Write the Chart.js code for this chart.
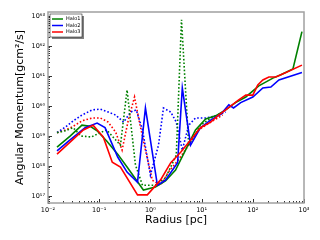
<!DOCTYPE html>
<html>
<head>
<meta charset="utf-8">
<script src="https://cdn.jsdelivr.net/npm/chart.js@4"></script>
<style>
  html, body { margin: 0; padding: 0; background: #fff; }
  #wrap { width: 320px; height: 240px; }
</style>
</head>
<body>
<div id="wrap"><canvas id="amChart" width="320" height="240"></canvas></div>
<script>
// ============================================
// DATA — radius [pc] and angular momentum [g cm^2/s]
// ============================================
const xTicks = [1e-2, 1e-1, 1e0, 1e1, 1e2, 1e3];
const yTicks = [1e57, 1e58, 1e59, 1e60, 1e61, 1e62, 1e63];
const supers = { '-': '⁻', '0': '⁰', '1': '¹', '2': '²', '3': '³', '4': '⁴', '5': '⁵', '6': '⁶', '7': '⁷', '8': '⁸', '9': '⁹' };

// Halo1 (green)
const halo1R = [0.015, 0.027, 0.046, 0.067, 0.091, 0.14, 0.23, 0.35, 0.73, 1.25, 1.97, 3.1, 4.85, 7.6, 12, 18.8, 29.5, 46, 73, 131, 247, 354, 608, 912];
const halo1L = [4.3e58, 1.0e59, 2.3e59, 2.1e59, 1.5e59, 6.8e58, 2.5e58, 9.3e57, 1.6e57, 2.0e57, 3.2e57, 7.4e57, 3.4e58, 1.6e59, 3.7e59, 4.7e59, 7.4e59, 1.3e60, 2.0e60, 4.7e60, 8.5e60, 1.1e61, 1.7e61, 3.0e62];
const halo1DotR = [0.015, 0.022, 0.031, 0.044, 0.070, 0.105, 0.14, 0.21, 0.26, 0.35, 0.51, 0.70, 1.25, 1.97, 3.2, 4.05, 5.6, 9.5, 16.4, 25.8];
const halo1DotL = [1.3e59, 1.5e59, 1.9e59, 1.0e59, 9.3e58, 1.3e59, 1.6e59, 7.4e58, 5.0e58, 3.4e60, 1.1e58, 2.3e57, 2.3e57, 4.0e57, 2.3e58, 7.4e62, 5.0e58, 2.3e59, 4.3e59, 5.9e59];

// Halo2 (blue)
const halo2R = [0.015, 0.027, 0.053, 0.091, 0.13, 0.23, 0.35, 0.56, 0.80, 1.37, 1.97, 3.4, 4.2, 6.1, 9.5, 15, 24, 34, 42, 58, 100, 157, 225, 324, 912];
const halo2L = [3.2e58, 7.4e58, 1.9e59, 2.7e59, 1.9e59, 2.0e58, 6.3e57, 2.9e57, 8.6e59, 2.3e57, 3.4e57, 1.3e58, 4.0e60, 5.0e58, 1.9e59, 3.4e59, 5.4e59, 1.1e60, 8.6e59, 1.3e60, 2.0e60, 4.0e60, 4.3e60, 7.4e60, 1.3e61];
const halo2DotR = [0.015, 0.022, 0.031, 0.046, 0.073, 0.105, 0.15, 0.21, 0.30, 0.41, 0.53, 0.70, 1.0, 1.44, 1.8, 2.5, 3.2, 4.2, 5.6, 7.6, 12, 18.8, 29.5];
const halo2DotL = [1.3e59, 2.0e59, 3.2e59, 5.0e59, 7.4e59, 7.9e59, 6.3e59, 5.0e59, 2.9e59, 6.3e59, 7.4e59, 1.6e59, 5.0e57, 5.0e58, 8.6e59, 6.3e59, 2.9e59, 3.4e58, 2.3e59, 4.0e59, 4.0e59, 4.7e59, 6.3e59];

// Halo3 (red)
const halo3R = [0.015, 0.027, 0.049, 0.076, 0.12, 0.18, 0.26, 0.56, 0.87, 1.57, 2.5, 3.9, 6.1, 9.5, 15, 21.5, 29.5, 53, 73, 100, 125, 157, 206, 282, 444, 912];
const halo3L = [2.5e58, 6.3e58, 1.6e59, 2.3e59, 9.3e58, 1.35e58, 9.3e57, 1.1e57, 1.1e57, 3.4e57, 1.3e58, 2.9e58, 7.4e58, 1.9e59, 2.9e59, 5.0e59, 7.4e59, 1.6e60, 2.3e60, 2.3e60, 5.0e60, 7.4e60, 9.3e60, 9.3e60, 1.3e61, 2.3e61];
const halo3DotR = [0.015, 0.022, 0.031, 0.046, 0.073, 0.105, 0.15, 0.21, 0.28, 0.37, 0.49, 0.61, 0.80, 1.09, 1.57, 2.25, 3.5, 5.6, 8.7, 15, 25.8];
const halo3DotL = [1.3e59, 1.6e59, 2.1e59, 3.2e59, 4.0e59, 4.0e59, 2.9e59, 1.35e59, 3.4e58, 3.4e59, 2.0e60, 2.9e59, 3.4e58, 3.4e57, 2.3e57, 6.3e57, 1.6e58, 5.0e58, 1.6e59, 2.9e59, 5.0e59];

// ============================================
// HELPERS
// ============================================
const toPoints = (xs, ys) => xs.map((x, i) => ({ x: x, y: ys[i] }));
const powLabel = v => {
  const e = String(Math.round(Math.log10(v)));
  return '10' + e.split('').map(c => supers[c]).join('');
};
const FONT = "'DejaVu Sans', sans-serif";

function line(label, xs, ys, color, dotted, order) {
  return {
    label: label,
    data: toPoints(xs, ys),
    borderColor: color,
    backgroundColor: color,
    borderWidth: 1.6,
    borderDash: dotted ? [1.6, 2] : [],
    pointRadius: 0,
    tension: 0,
    fill: false,
    order: order,
    inLegend: !dotted
  };
}

// frame, inward ticks and the legend box
const frameAndLegend = {
  id: 'frameAndLegend',
  afterDraw(chart) {
    const ctx = chart.ctx;
    const a = chart.chartArea;
    const xs = chart.scales.x, ys = chart.scales.y;
    ctx.save();

    // tick marks pointing inward (left + bottom)
    ctx.strokeStyle = '#000';
    ctx.lineWidth = 0.8;
    for (let e = -2; e <= 3; e++) {
      for (let m = 1; m <= 9; m++) {
        const v = m * Math.pow(10, e);
        if (v > 1000) break;
        const px = Math.round(xs.getPixelForValue(v)) + 0.5;
        const len = m === 1 ? 4 : 2;
        ctx.beginPath();
        ctx.moveTo(px, a.bottom);
        ctx.lineTo(px, a.bottom - len);
        ctx.stroke();
      }
    }
    for (let e = 56; e <= 63; e++) {
      for (let m = 1; m <= 9; m++) {
        const v = m * Math.pow(10, e);
        if (v < ys.min || v > ys.max) continue;
        const py = Math.round(ys.getPixelForValue(v)) + 0.5;
        const len = m === 1 ? 4 : 2;
        ctx.beginPath();
        ctx.moveTo(a.left, py);
        ctx.lineTo(a.left + len, py);
        ctx.stroke();
      }
    }

    // frame
    ctx.strokeStyle = '#a0a0a0';
    ctx.lineWidth = 1.5;
    ctx.strokeRect(a.left, a.top, a.right - a.left, a.bottom - a.top);

    // legend
    const items = chart.data.datasets.filter(d => d.inLegend);
    const bx = a.left + 2, by = a.top + 2, bw = 32, bh = 23;
    ctx.fillStyle = '#808080';
    ctx.fillRect(bx + 2, by + 2, bw, bh);
    ctx.fillStyle = '#fff';
    ctx.fillRect(bx, by, bw, bh);
    ctx.strokeStyle = '#000';
    ctx.lineWidth = 0.5;
    ctx.strokeRect(bx, by, bw, bh);
    ctx.font = '5px ' + FONT;
    ctx.textBaseline = 'middle';
    items.forEach((d, i) => {
      const y = by + 5 + i * 6.5;
      ctx.strokeStyle = d.borderColor;
      ctx.lineWidth = 1.5;
      ctx.beginPath();
      ctx.moveTo(bx + 2, y);
      ctx.lineTo(bx + 13, y);
      ctx.stroke();
      ctx.fillStyle = '#000';
      ctx.fillText(d.label, bx + 16, y);
    });
    ctx.restore();
  }
};

// ============================================
// CHART
// ============================================
const noGrid = { display: false, drawTicks: false, tickLength: 0 };

const chart = new Chart(document.getElementById('amChart'), {
  type: 'line',
  data: {
    datasets: [
      line('Halo1', halo1R, halo1L, '#008000', false, 2),
      line('Halo2', halo2R, halo2L, '#0000ff', false, 1),
      line('Halo3', halo3R, halo3L, '#ff0000', false, 0),
      line('Halo1 dot', halo1DotR, halo1DotL, '#008000', true, 3),
      line('Halo2 dot', halo2DotR, halo2DotL, '#0000ff', true, 4),
      line('Halo3 dot', halo3DotR, halo3DotL, '#ff0000', true, 5)
    ]
  },
  options: {
    responsive: false,
    animation: false,
    events: [],
    layout: { padding: { left: 0, right: 16, top: 12, bottom: 0 } },
    plugins: { legend: { display: false }, tooltip: { enabled: false } },
    scales: {
      x: {
        type: 'logarithmic',
        min: 1e-2,
        max: 1e3,
        afterBuildTicks: s => { s.ticks = xTicks.map(v => ({ value: v })); },
        afterFit: s => { s.height = 37; },
        grid: noGrid,
        border: { display: false },
        ticks: {
          autoSkip: false,
          maxRotation: 0,
          padding: 3,
          color: '#000',
          font: { family: FONT, size: 6.5 },
          callback: v => powLabel(v)
        },
        title: {
          display: true,
          text: 'Radius [pc]',
          color: '#000',
          font: { family: FONT, size: 11 },
          padding: { top: 0, bottom: 13 }
        }
      },
      y: {
        type: 'logarithmic',
        min: 5.9e56,
        max: 1.35e63,
        afterBuildTicks: s => { s.ticks = yTicks.map(v => ({ value: v })); },
        afterFit: s => { s.width = 48; },
        grid: noGrid,
        border: { display: false },
        ticks: {
          autoSkip: false,
          padding: 3,
          color: '#000',
          font: { family: FONT, size: 6.5 },
          callback: v => powLabel(v)
        },
        title: {
          display: true,
          text: 'Angular Momentum[gcm²/s]',
          color: '#000',
          font: { family: FONT, size: 11 },
          padding: { top: 14, bottom: 0 }
        }
      }
    }
  },
  plugins: [frameAndLegend]
});
</script>
</body>
</html>
